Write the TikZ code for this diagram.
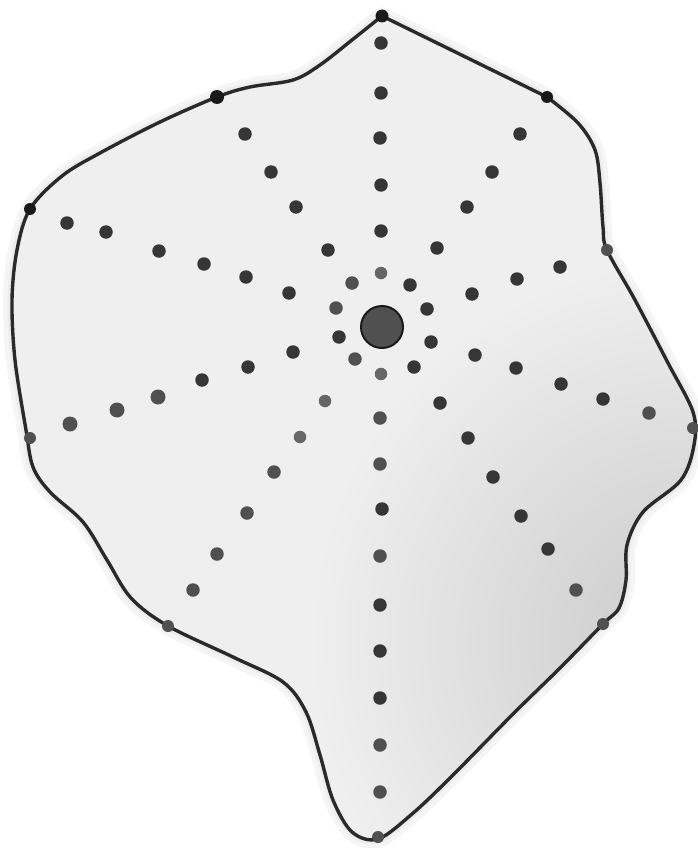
\documentclass[tikz,border=0pt]{standalone}
\usetikzlibrary{shapes.geometric}
\definecolor{fillc}{HTML}{EFEFEF}
\definecolor{edgec}{HTML}{2A2A2A}
\definecolor{dotdk}{HTML}{363636}
\definecolor{dotmd}{HTML}{505050}
\definecolor{dotlt}{HTML}{666666}
\tikzset{
  dotd/.style={circle,fill=dotdk,inner sep=0pt,minimum size=13.5pt},
  dotm/.style={circle,fill=dotmd,inner sep=0pt,minimum size=13.5pt},
  dotl/.style={circle,fill=dotlt,inner sep=0pt,minimum size=12.5pt},
  rim/.style={circle,fill=black!90,inner sep=0pt,minimum size=12pt},
  rimm/.style={circle,fill=dotmd,inner sep=0pt,minimum size=12pt},
  hub/.style={circle,fill=dotmd,draw=black!90,line width=2pt,inner sep=0pt,minimum size=42pt},
  outline/.style={draw=edgec,line width=3.4pt,line join=round},
}
\def\blobpath{(382,16) -- plot[smooth,tension=0.55] coordinates {(547,97) (578,123) (595,150) (600,183) (603,227) (607,250) (635,300) (668,363) (693,412) (694,445) (681,480) (643,512) (627,545) (626,580) (619,608) (603,624) (560,668) (515,712) (450,778) (412,814) (378,839) (352,832) (333,800) (320,755) (306,712) (283,682) (233,657) (168,626) (131,598) (107,560) (83,522) (50,492) (33,467) (26,430) (15,360) (12,300) (17,250) (30,209) (62,176) (100,153) (160,122) (217,97) (250,87) (293,80) (320,65) (352,40) (382,16)} -- cycle}
\begin{document}
\begin{tikzpicture}[x=1pt,y=-1pt]
\useasboundingbox (0,0) rectangle (697,848);
% soft halo
\path[draw=black!4,line width=18pt,line join=round] \blobpath;
\path[draw=black!7,line width=9pt,line join=round] \blobpath;
% fill with gradient
\begin{scope}
\clip \blobpath;
\fill[fillc] (0,0) rectangle (697,848);
\shade[inner color=black!21,outer color=fillc] (690,640) circle (380);
\end{scope}
\path[outline] \blobpath;
% rays
\foreach \p [count=\i] in {(381,43),(381,93),(380,138),(381,185),(381,231)}
  \node[dotd] (n\i) at \p {};
\node[dotl] (n6) at (381,273) {};
\foreach \p [count=\i] in {(520,134),(492,172),(467,207),(437,248),(410,285)}
  \node[dotd] (ne\i) at \p {};
\foreach \p [count=\i] in {(560,267),(517,279),(472,294),(427,309)}
  \node[dotd] (ene\i) at \p {};
\node[dotm] (ese1) at (649,413) {};
\foreach \p [count=\i from 2] in {(603,399),(561,384),(516,368),(475,355),(431,342)}
  \node[dotd] (ese\i) at \p {};
\node[dotm] (se1) at (576,590) {};
\foreach \p [count=\i from 2] in {(548,549),(521,516),(493,477),(468,438),(440,403),(414,367)}
  \node[dotd] (se\i) at \p {};
\foreach \p [count=\i] in {(380,792),(380,745)}
  \node[dotm] (s\i) at \p {};
\foreach \p [count=\i from 3] in {(380,698),(380,651),(380,605)}
  \node[dotd] (s\i) at \p {};
\node[dotm] (s6) at (380,556) {};
\node[dotd] (s7) at (382,509) {};
\node[dotm] (s8) at (380,464) {};
\node[dotm] (s9) at (380,418) {};
\node[dotl] (s10) at (381,374) {};
\foreach \p [count=\i] in {(193,590),(217,554),(247,513),(274,472)}
  \node[dotm] (sw\i) at \p {};
\node[dotl] (sw5) at (300,437) {};
\node[dotl] (sw6) at (325,401) {};
\node[dotm] (sw7) at (355,359) {};
\foreach \p [count=\i] in {(70,424),(117,410),(158,397)}
  \node[dotm,minimum size=15pt] (wsw\i) at \p {};
\foreach \p [count=\i from 4] in {(202,380),(248,367),(293,352),(339,337)}
  \node[dotd] (wsw\i) at \p {};
\foreach \p [count=\i] in {(67,223),(106,232),(159,251),(204,264),(246,277),(289,293)}
  \node[dotd] (wnw\i) at \p {};
\node[dotm] (wnw7) at (336,308) {};
\foreach \p [count=\i] in {(245,134),(271,172),(296,207),(328,250)}
  \node[dotd] (nw\i) at \p {};
\node[dotm] (nw5) at (352,283) {};
% rim dots
\node[rim,minimum size=13pt] (rn) at (382,16) {};
\node[rim,minimum size=14pt] (rnw) at (217,97) {};
\node[rim] (rne) at (547,97) {};
\node[rim] (rwnw) at (30,209) {};
\node[rimm] (rene) at (607,250) {};
\node[rimm] (rwsw) at (30,438) {};
\node[rimm] (rese) at (693,428) {};
\node[rimm] (rsw) at (168,626) {};
\node[rimm] (rse) at (603,624) {};
\node[rimm] (rs) at (378,837) {};
% hub
\node[hub] (hub) at (382,327) {};
\end{tikzpicture}
\end{document}
